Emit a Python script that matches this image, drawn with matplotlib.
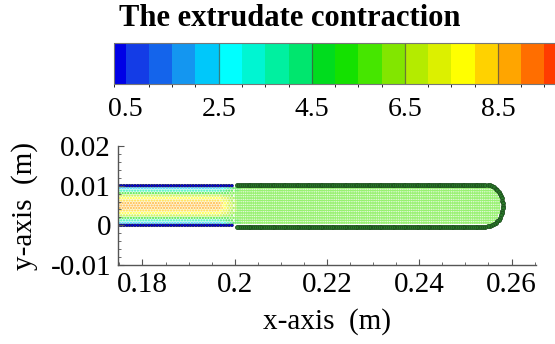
import numpy as np
import matplotlib
matplotlib.use("Agg")
import matplotlib.pyplot as plt
from matplotlib.colors import ListedColormap, BoundaryNorm
from matplotlib.ticker import MultipleLocator

plt.rcParams['font.family'] = ['Liberation Serif', 'DejaVu Serif']

# --- data -------------------------------------------------------------
# velocity contour levels of the legend
levels = [0.25, 0.5, 1.0, 1.5, 2.0, 2.5, 3.0, 3.5, 4.0, 4.5, 5.0,
          5.5, 6.0, 6.5, 7.0, 7.5, 8.0, 8.5, 9.0, 9.5, 10.0]
level_ticks = [0.5, 2.5, 4.5, 6.5, 8.5]
level_colors = ['#0000e6', '#143ce6', '#1464eb', '#1496f0', '#00c8fa',
                '#00ffff', '#00f5d2', '#00f0a0', '#00e66e', '#00dc1e',
                '#14e100', '#46e600', '#82e600', '#b4eb00', '#dcf000',
                '#ffff00', '#ffd200', '#ffa500', '#ff6e00', '#ff3c00']

# velocity per particle row inside the die, wall -> centreline
die_profile_half = [0.3, 2.4, 3.9, 5.4, 6.8, 7.7, 8.3, 8.7, 8.9]
# plug velocity of the free extrudate
extrudate_velocity = 5.6
# relaxation of the die profile towards plug flow, per column around the exit
exit_relax = [0.15, 0.3, 0.45, 0.6, 0.72, 0.82, 0.9, 0.96, 1.0]

# geometry (m)
die_x0, die_exit = 0.170, 0.1996
extrudate_x0, extrudate_tip = 0.2002, 0.2581
tip_length = 0.0036
channel_h = 0.010
dx, dy = 0.0006, 0.000625

# --- particle positions --------------------------------------------------
die_profile = np.array(die_profile_half + die_profile_half[-2::-1])
n_rows = len(die_profile)
row_y = np.arange(n_rows) * dy

die_cols = np.arange(die_x0, die_exit, dx)
ext_cols = np.arange(extrudate_x0, extrudate_tip, dx * 0.8)

n_relax = len(exit_relax)
n_die_relax = 5
die_w = np.zeros(len(die_cols))
die_w[-n_die_relax:] = exit_relax[:n_die_relax]
ext_w = np.ones(len(ext_cols))
ext_w[:n_relax - n_die_relax] = exit_relax[n_die_relax:]

# die interior (rows 1..n-2) and walls
dxs, dys, dvs = [], [], []
wxs, wys, wvs = [], [], []
for i, y in enumerate(row_y):
    shift = 0.5 * dx * (i % 2)
    for j, x in enumerate(die_cols):
        v = (1 - die_w[j]) * die_profile[i] + die_w[j] * extrudate_velocity
        if i == 0 or i == n_rows - 1:
            wxs.append(x); wys.append(y); wvs.append(die_profile[i])
        else:
            dxs.append(x + shift); dys.append(y); dvs.append(v)

# extrudate interior
top_y, bot_y = channel_h + 0.0002, -0.0003
ry = (top_y - bot_y) / 2
cyf = (top_y + bot_y) / 2
body_end = extrudate_tip - tip_length
exs, eys, evs = [], [], []
for i, y in enumerate(row_y[1:-1], start=1):
    half = np.sqrt(max(0.0, 1 - ((y - cyf) / ry) ** 2))
    xmax = body_end + tip_length * half - 0.0005
    for j, x in enumerate(ext_cols):
        if x <= xmax:
            v = (1 - ext_w[j]) * die_profile[i] + ext_w[j] * extrudate_velocity
            exs.append(x); eys.append(y); evs.append(v)

# extrudate free-surface particles
bx = np.arange(extrudate_x0 + 0.0004, body_end, 0.0004)
theta = np.linspace(np.pi / 2, -np.pi / 2, 27)[1:-1]
fx = np.concatenate([bx, body_end + tip_length * np.cos(theta), bx[::-1]])
fy = np.concatenate([np.full(len(bx), top_y),
                     cyf + ry * np.sin(theta),
                     np.full(len(bx), bot_y)])

# --- figure --------------------------------------------------------------
fig = plt.figure(figsize=(5.55, 3.44), dpi=100)
cmap = ListedColormap(level_colors)
norm = BoundaryNorm(levels, cmap.N)

ax = fig.add_axes([118 / 555, 79 / 344, 418 / 555, 119 / 344])
sc = ax.scatter(dxs, dys, c=dvs, cmap=cmap, norm=norm, s=3.0,
                linewidths=0, marker='o', alpha=0.6)
ax.scatter(exs, eys, c=evs, cmap=cmap, norm=norm, s=3.0,
           linewidths=0, marker='o', alpha=0.55)
ax.scatter(wxs, wys, c=wvs, cmap=cmap, norm=norm, s=4.0,
           edgecolors='#0c0c50', linewidths=0.45, marker='o')
ax.scatter(fx, fy, color='#2a7a2a', s=8, edgecolors='#1d4f1d',
           linewidths=0.6, marker='o')

ax.set_xlim(0.1747, 0.2653)
ax.set_ylim(-0.01, 0.02)
ax.set_xticks([0.18, 0.20, 0.22, 0.24, 0.26])
ax.set_xticklabels(['0.18', '0.2', '0.22', '0.24', '0.26'])
ax.set_yticks([-0.01, 0.0, 0.01, 0.02])
ax.set_yticklabels(['-0.01', '0', '0.01', '0.02'])
ax.xaxis.set_minor_locator(MultipleLocator(0.005))
ax.yaxis.set_minor_locator(MultipleLocator(0.002))
for s in ('top', 'right'):
    ax.spines[s].set_visible(False)
for s in ('left', 'bottom'):
    ax.spines[s].set_color('#555555')
    ax.spines[s].set_linewidth(1.0)
ax.tick_params(which='major', direction='in', length=4.5, width=0.8,
               color='#555555', labelsize=21, pad=5)
ax.tick_params(which='minor', direction='in', length=2.5, width=0.6,
               color='#555555')
ax.set_xlabel('x-axis  (m)', fontsize=21, labelpad=7)
ax.set_ylabel('y-axis  (m)', fontsize=21, labelpad=9)

# legend bar
cax = fig.add_axes([114 / 555, 260 / 344, 453.75 / 555, 41 / 344])
cb = fig.colorbar(sc, cax=cax, orientation='horizontal',
                  spacing='proportional', ticks=level_ticks)
cb.solids.set_alpha(1.0)
cb.set_ticklabels(['0.5', '2.5', '4.5', '6.5', '8.5'])
cb.outline.set_edgecolor('#777777')
cb.outline.set_linewidth(0.8)
cax.tick_params(length=0, labelsize=20, pad=9)
for t in level_ticks[1:]:
    cax.axvline(t, color='#4a4a4a', lw=0.9, alpha=0.7)

fig.text(290 / 555, 1 - 19 / 344, 'The extrudate contraction',
         ha='center', va='center', fontsize=22, fontweight='bold')

fig.savefig('out.png', dpi=100)
